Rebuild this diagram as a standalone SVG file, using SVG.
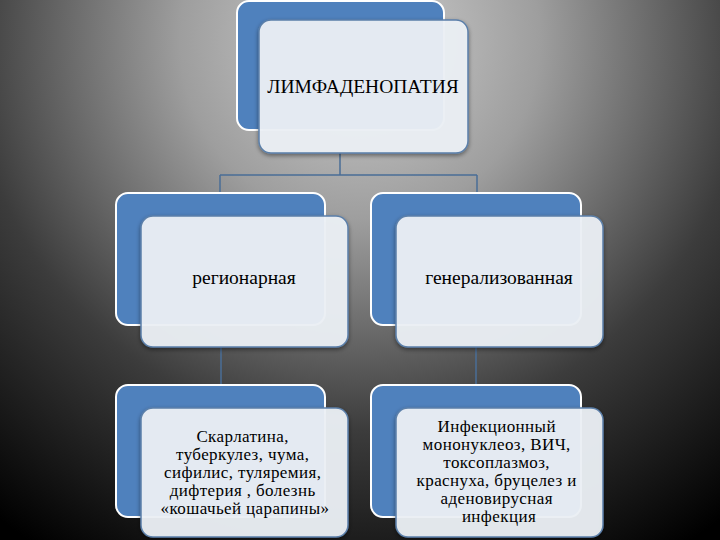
<svg xmlns="http://www.w3.org/2000/svg" width="720" height="540" viewBox="0 0 720 540">
  <defs>
    <radialGradient id="bg" gradientUnits="userSpaceOnUse" cx="360" cy="40" r="600">
      <stop offset="0" stop-color="#cfcfcf"/>
      <stop offset="0.3" stop-color="#9e9e9e"/>
      <stop offset="0.65" stop-color="#3c3c3c"/>
      <stop offset="1" stop-color="#000000"/>
    </radialGradient>
    <filter id="sh" x="-10%" y="-10%" width="120%" height="125%">
      <feDropShadow dx="0" dy="2" stdDeviation="2" flood-color="#000" flood-opacity="0.45"/>
    </filter>
  </defs>
  <style>
    .back { fill: #4f81bd; stroke: #ffffff; stroke-width: 2; }
    .front { fill: #eef2f8; fill-opacity: 0.93; stroke: #5b7fa9; stroke-width: 1.5; filter: url(#sh); }
    .conn { fill: none; stroke: #4a6d96; stroke-width: 1.5; }
    text { font-family: "Liberation Serif", "DejaVu Serif", serif; fill: #000; text-anchor: middle; }
    .big { font-size: 19.5px; }
    .list { font-size: 17px; letter-spacing: 0.4px; }
  </style>
  <rect x="0" y="0" width="720" height="540" fill="url(#bg)"/>

  <g id="connectors">
    <path class="conn" d="M340,153 V175 M220,175 H477 M220,175 V193 M477,175 V193"/>
    <path class="conn" d="M221,347 V385 M476,347 V385"/>
  </g>

  <g id="node-root">
    <rect class="back" x="237" y="1" width="207" height="129" rx="12"/>
    <rect class="front" x="259" y="20" width="209" height="133" rx="12"/>
    <text class="big" x="363" y="93">ЛИМФАДЕНОПАТИЯ</text>
  </g>

  <g id="node-regional">
    <rect class="back" x="116" y="193" width="209" height="132" rx="12"/>
    <rect class="front" x="141" y="216" width="207" height="131" rx="12"/>
    <text class="big" x="244" y="284">регионарная</text>
  </g>

  <g id="node-general">
    <rect class="back" x="371" y="193" width="210" height="132" rx="12"/>
    <rect class="front" x="396" y="216" width="207" height="131" rx="12"/>
    <text class="big" x="499" y="284">генерализованная</text>
  </g>

  <g id="node-regional-list">
    <rect class="back" x="116" y="385" width="209" height="132" rx="12"/>
    <rect class="front" x="141" y="408" width="207" height="129" rx="12"/>
    <text class="list">
      <tspan x="245" y="442">Скарлатина,</tspan>
      <tspan x="245" y="460">туберкулез, чума,</tspan>
      <tspan x="245" y="478">сифилис, туляремия,</tspan>
      <tspan x="245" y="496">дифтерия , болезнь</tspan>
      <tspan x="245" y="514">«кошачьей царапины»</tspan>
    </text>
  </g>

  <g id="node-general-list">
    <rect class="back" x="371" y="385" width="210" height="132" rx="12"/>
    <rect class="front" x="396" y="408" width="207" height="129" rx="12"/>
    <text class="list">
      <tspan x="499" y="432">Инфекционный</tspan>
      <tspan x="499" y="450">мононуклеоз, ВИЧ,</tspan>
      <tspan x="499" y="468">токсоплазмоз,</tspan>
      <tspan x="499" y="486">краснуха, бруцелез и</tspan>
      <tspan x="499" y="504">аденовирусная</tspan>
      <tspan x="499" y="522">инфекция</tspan>
    </text>
  </g>
</svg>
